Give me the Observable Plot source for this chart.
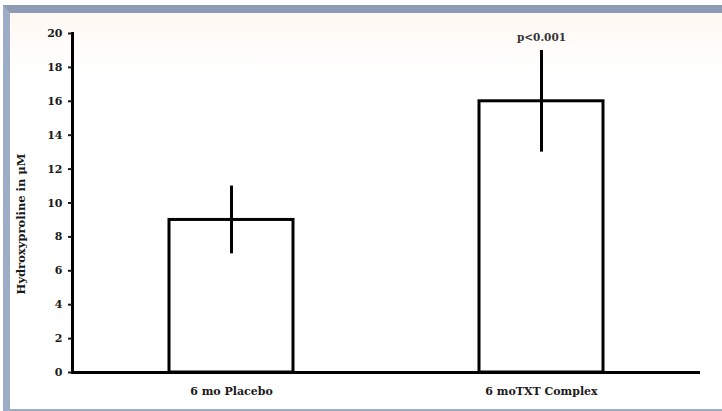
<!DOCTYPE html>
<html>
<head>
<meta charset="utf-8">
<script src="https://cdn.jsdelivr.net/npm/d3@7"></script>
<script src="https://cdn.jsdelivr.net/npm/@observablehq/plot@0.6"></script>
<style>
  html, body { margin: 0; padding: 0; background: #ffffff; }
  #wrap {
    position: absolute; left: 3px; top: 5px;
    width: 712px; height: 396px;
    border-top: 8px solid #8d9cb4;
    border-left: 7px solid #9dadc6;
    border-bottom: 2px solid #9dadc6;
    background: linear-gradient(#fff8f2, #ffffff 60px);
  }
  #wrap svg { display: block; background: transparent; }
</style>
</head>
<body>
<div id="wrap"></div>
<script>
const categories = ["6 mo Placebo", "6 moTXT Complex"];
const means = [9, 16];
const errLow = [7, 13];
const errHigh = [11, 19];
const notes = ["", "p<0.001"];
const yTicks = [0, 2, 4, 6, 8, 10, 12, 14, 16, 18, 20];
const yLabel = "Hydroxyproline in μM";

const data = categories.map((c, i) => ({cat: c, mean: means[i], lo: errLow[i], hi: errHigh[i], note: notes[i]}));

const chart = Plot.plot({
  width: 712,
  height: 396,
  marginLeft: 62,
  marginRight: 22,
  marginTop: 20,
  marginBottom: 37,
  style: {fontFamily: "DejaVu Serif, serif", fontSize: "11px", color: "#1a1a1a", background: "transparent"},
  x: {domain: categories, paddingInner: 0.6, paddingOuter: 0.31, axis: null},
  y: {domain: [0, 20], axis: null},
  marks: [
    Plot.barY(data, {x: "cat", y: "mean", fill: "white", stroke: "black", strokeWidth: 3}),
    Plot.ruleX(data, {x: "cat", y1: "lo", y2: "hi", stroke: "black", strokeWidth: 3}),
    Plot.text(data, {x: "cat", y: "hi", text: "note", dy: -13, fontSize: 10.5, fontWeight: "bold", fill: "#333"}),
    Plot.ruleY([0], {stroke: "black", strokeWidth: 3}),
    Plot.frame({anchor: "left", stroke: "black", strokeWidth: 3}),
    Plot.axisY({ticks: yTicks, tickSize: 4, tickPadding: 6, strokeWidth: 2, fontWeight: "bold", label: null}),
    Plot.axisX({tickSize: 0, tickPadding: 15, fontWeight: "bold", label: null}),
    Plot.text([yLabel], {frameAnchor: "left", textAnchor: "middle", rotate: -90, dx: -51, dy: 21, fontWeight: "bold", fontSize: 11.5})
  ]
});
document.getElementById("wrap").appendChild(chart);
</script>
</body>
</html>
